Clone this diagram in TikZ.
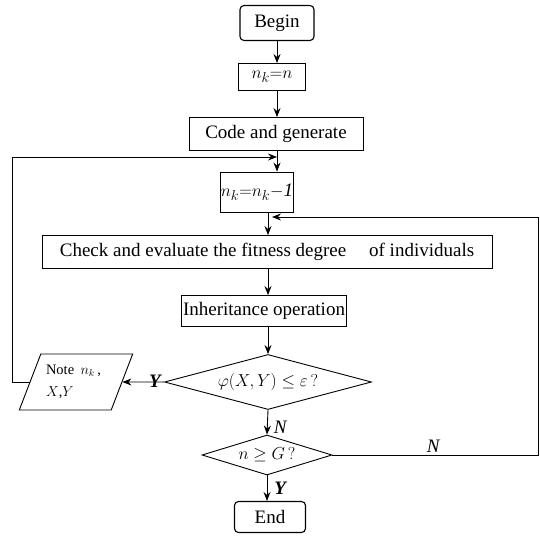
\documentclass[tikz,border=0pt]{standalone}
\usepackage{amsmath, amssymb}
\usepackage{fontspec}
\setmainfont{Liberation Serif}
\usepackage{tikz}
\usetikzlibrary{shapes.geometric,arrows.meta,positioning}

\begin{document}
\begin{tikzpicture}[->,>={Stealth[length=9pt,width=7pt,inset=3pt]},x=1pt,y=1pt,line width=0.9pt,font=\fontsize{19}{22}\selectfont]
\tikzstyle{every node}=[draw=black,inner sep=0pt]
\tikzstyle{term}=[rectangle,rounded corners=4pt,line width=1.1pt]
\tikzstyle{proc}=[rectangle]
\tikzstyle{test}=[diamond]
\tikzstyle{note}=[trapezium,trapezium left angle=69,trapezium right angle=111,align=left,inner ysep=7pt]
\tikzstyle{tag}=[draw=none,font=\fontsize{19}{22}\selectfont\itshape]
\useasboundingbox (0,0) rectangle (540,536);

% Bloques del proceso
\node[term,minimum width=74,minimum height=35] (begin) at (277,513) {Begin};
\node[proc,minimum width=67,minimum height=27] (init) at (272,459) {$n_k{=}n$};
\node[proc,minimum width=174,minimum height=33] (code) at (276,402) {Code and generate};
\node[proc,minimum width=60,minimum height=40] (dec) at (257,344) {$n_k{=}n_k{-}\mathit{1}$};
\node[proc,minimum width=450,minimum height=33] (check) at (267,284) {Check and evaluate the fitness degree\hspace{1.2em}of individuals};
\node[proc,minimum width=165,minimum height=31] (inherit) at (264,225) {Inheritance operation};
\node[test,aspect=3.76,minimum width=207,minimum height=55] (phi) at (268,154) {$\varphi(X,Y)\leq\varepsilon\,?$};
\node[note,text width=60,minimum height=56] (rec) at (76,154) {\fontsize{14.5}{28}\selectfont Note $n_k$\,,\\$X$,$Y$};
\node[test,aspect=3.25,minimum width=130,minimum height=40] (gen) at (267,81) {$n\geq G\,?$};
\node[term,minimum width=71,minimum height=31] (end) at (270,19) {End};

% Puntos de retorno
\coordinate (j1) at (277,379);
\coordinate (j2) at (272,319);

% Flujo principal
\draw (begin) -- (begin |- init.north);
\draw (init.south -| begin) -- (code.north -| begin);
\draw (code.south -| j1) -- (j1 |- dec.north);
\draw (dec.south -| phi.north) -- (check.north -| phi.north);
\draw (check.south -| phi.north) -- (inherit.north -| phi.north);
\draw (inherit.south -| phi.north) -- (phi.north);
\draw (phi.south) -- node[tag,right=6pt,pos=0.7]{N} (gen.north);
\draw (gen.south) -- node[tag,right=7pt,pos=0.5]{\textbf{Y}} (end.north -| gen.south);

% Bucles de retorno
\draw (phi.west) -- node[tag,above=-6pt,pos=0.22]{\textbf{Y}} (rec.east);
\draw (rec.west) -| (12,379) -- (j1);
\draw (gen.east) -- node[tag,above=2pt,pos=0.49]{N} (538,81) |- (j2);
\end{tikzpicture}
\end{document}
